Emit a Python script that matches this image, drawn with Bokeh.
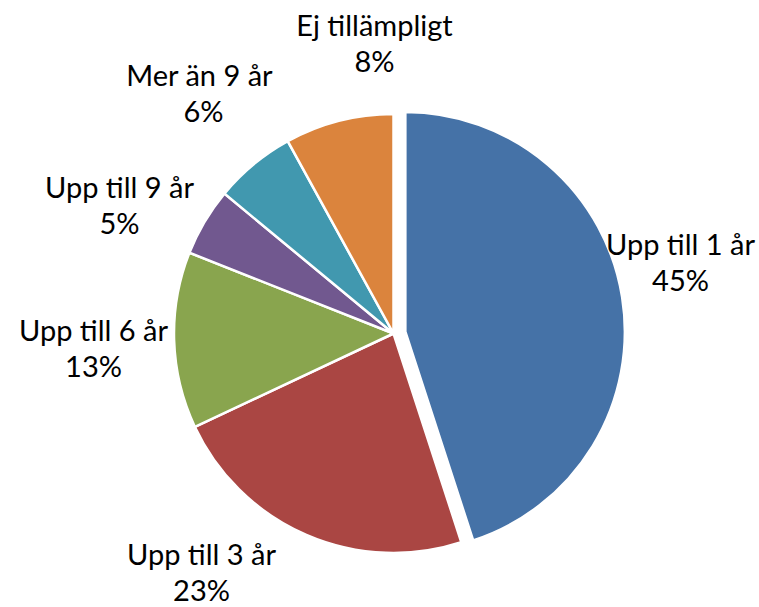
import math
from bokeh.plotting import figure
from bokeh.models import Range1d, ColumnDataSource
from bokeh.core.properties import value
from bokeh.embed import file_html
from bokeh.resources import INLINE

categories = ["Upp till 1 år", "Upp till 3 år", "Upp till 6 år", "Upp till 9 år", "Mer än 9  år", "Ej tillämpligt"]
values = [45, 23, 13, 5, 6, 8]
colors = ["#4572A7", "#AA4643", "#89A54E", "#71588F", "#4198AF", "#DB843D"]
explode = [12, 0, 0, 0, 0, 0]   # px pulled out of the pie

# layout (screen px of the picture)
W, H = 759, 607
CX, CY, R = 393, 333, 219.5
label_pos = [(680, 243), (201, 553), (93, 329), (119, 186), (203, 74), (374, 24)]
LINE = 36

def dx(sx):
    return sx

def dy(sy):
    return H - sy

total = float(sum(values))
xs, ys, starts, ends = [], [], [], []
cum = 0.0
for v, e in zip(values, explode):
    a0 = math.pi / 2 - 2 * math.pi * cum / total
    a1 = math.pi / 2 - 2 * math.pi * (cum + v) / total
    mid = (a0 + a1) / 2
    xs.append(dx(CX) + e * math.cos(mid))
    ys.append(dy(CY) + e * math.sin(mid))
    starts.append(a0)
    ends.append(a1)
    cum += v

src = ColumnDataSource(dict(x=xs, y=ys, start=starts, end=ends, color=colors))

p = figure(width=W, height=H, output_backend="svg", toolbar_location=None,
           x_range=Range1d(0, W), y_range=Range1d(0, H), min_border=0)
p.axis.visible = False
p.grid.visible = False
p.outline_line_color = None
p.background_fill_color = "white"
p.border_fill_color = "white"

p.wedge(x="x", y="y", radius=R, radius_units="screen", start_angle="start", end_angle="end",
        direction="clock", fill_color="color", line_color="white", line_width=2.5, source=src)

lsrc = ColumnDataSource(dict(
    x=[dx(a) for a, b in label_pos],
    y1=[dy(b) for a, b in label_pos],
    y2=[dy(b + LINE) for a, b in label_pos],
    name=categories,
    pct=[f"{v}%" for v in values],
))
for col, ycol in (("name", "y1"), ("pct", "y2")):
    p.text(x="x", y=ycol, text=col, source=lsrc, text_align="center", text_baseline="alphabetic",
           text_font=value("Lato"), text_font_size="29px", text_color="#000000")

open("out.html", "w").write(file_html(p, INLINE))
